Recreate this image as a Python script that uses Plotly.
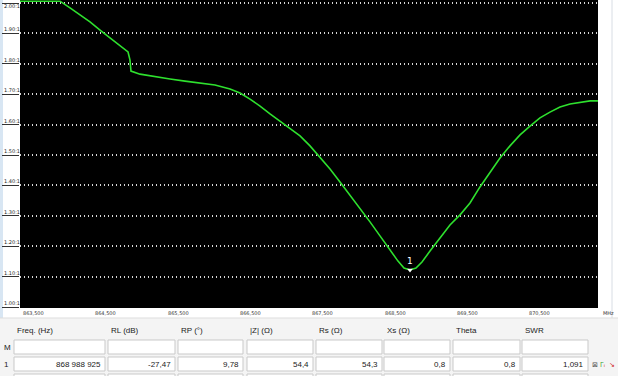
import plotly.graph_objects as go

# ---------------- data ----------------
freq_mhz = [863.500, 864.053, 864.192, 864.330, 864.468, 864.607, 864.745, 864.883, 864.994,
            865.021, 865.035, 865.160, 865.367, 865.575, 865.782, 865.990, 866.197, 866.405,
            866.543, 866.681, 866.820, 866.958, 867.096, 867.234, 867.373, 867.511, 867.649,
            867.788, 867.926, 868.064, 868.203, 868.341, 868.479, 868.618, 868.728, 868.811,
            868.894, 868.977, 869.060, 869.171, 869.309, 869.447, 869.586, 869.724, 869.862,
            870.001, 870.139, 870.277, 870.416, 870.554, 870.692, 870.830, 870.969, 871.107,
            871.245, 871.384, 871.494]
swr = [2.006, 2.006, 1.984, 1.961, 1.938, 1.911, 1.885, 1.862, 1.839,
       1.813, 1.776, 1.766, 1.757, 1.750, 1.743, 1.737, 1.730, 1.717,
       1.704, 1.684, 1.661, 1.635, 1.612, 1.589, 1.563, 1.530, 1.493,
       1.454, 1.411, 1.368, 1.326, 1.280, 1.234, 1.188, 1.151, 1.128,
       1.122, 1.128, 1.148, 1.184, 1.227, 1.270, 1.303, 1.342, 1.395,
       1.444, 1.490, 1.530, 1.566, 1.595, 1.622, 1.641, 1.658, 1.668,
       1.674, 1.678, 1.678]

marker_freq = 868.894
marker_swr = 1.122

y_ticks = [1.0, 1.1, 1.2, 1.3, 1.4, 1.5, 1.6, 1.7, 1.8, 1.9, 2.0]
y_ticktext = ["1.00:1", "1.10:1", "1.20:1", "1.30:1", "1.40:1", "1.50:1",
              "1.60:1", "1.70:1", "1.80:1", "1.90:1", "2.00:1"]
x_ticks = [863.5, 864.5, 865.5, 866.5, 867.5, 868.5, 869.5, 870.5]
x_ticktext = ["863,500", "864,500", "865,500", "866,500", "867,500", "868,500",
              "869,500", "870,500"]
x_unit = "MHz"

table_headers = ["Freq. (Hz)", "RL (dB)", "RP (°)", "|Z| (Ω)", "Rs (Ω)", "Xs (Ω)", "Theta", "SWR"]
table_row1 = ["868 988 925", "-27,47", "9,78", "54,4", "54,3", "0,8", "0,8", "1,091"]
row_labels = ["M", "1"]

# ---------------- layout helpers ----------------
W, H = 618, 376
PL, PR, PT, PB = 20, 598, 0, 308


def px(x):
    return (x - PL) / (PR - PL)


def py(y):
    return (PB - y) / (PB - PT)


fig = go.Figure()
fig.add_trace(go.Scatter(x=freq_mhz, y=swr, mode="lines",
                         line=dict(color="#2ee02e", width=1.6),
                         hoverinfo="skip", showlegend=False, cliponaxis=True))
fig.add_trace(go.Scatter(x=[marker_freq], y=[marker_swr], mode="markers",
                         marker=dict(symbol="triangle-down", size=5, color="white"),
                         showlegend=False, hoverinfo="skip"))

ann = []
shapes = []

# marker label
ann.append(dict(x=marker_freq, y=marker_swr, xref="x", yref="y", text="1",
                showarrow=False, yshift=9, font=dict(color="white", size=9, family="DejaVu Sans")))

# y labels (sitting on their tick underline)
for v, t in zip(y_ticks, y_ticktext):
    top = v == max(y_ticks)
    ann.append(dict(x=px(2), y=v, xref="paper", yref="y", text=t, showarrow=False,
                    xanchor="left", yanchor="top" if top else "bottom", yshift=2 if top else -1,
                    font=dict(size=5, color="#222222", family="DejaVu Sans")))

# x labels
for v, t in zip(x_ticks, x_ticktext):
    ann.append(dict(x=v, y=py(313), xref="x", yref="paper", text=t, showarrow=False,
                    xanchor="left", yanchor="middle", xshift=1,
                    font=dict(size=5, color="#333333", family="DejaVu Sans")))
ann.append(dict(x=px(601), y=py(313), xref="paper", yref="paper", text=x_unit, showarrow=False,
                xanchor="left", yanchor="middle", font=dict(size=5, color="#333333", family="DejaVu Sans")))

# background pieces
shapes.append(dict(type="rect", xref="paper", yref="paper", x0=px(0), x1=px(618), y0=py(376), y1=py(318),
                   fillcolor="#f4f4f4", line=dict(width=0), layer="below"))
shapes.append(dict(type="rect", xref="paper", yref="paper", x0=px(0), x1=px(3), y0=py(318), y1=py(0),
                   fillcolor="#d8e6f3", line=dict(width=0), layer="below"))
shapes.append(dict(type="line", xref="paper", yref="paper", x0=px(612), x1=px(612), y0=py(318), y1=py(0),
                   line=dict(color="#d8dde4", width=1)))
shapes.append(dict(type="line", xref="paper", yref="paper", x0=px(0), x1=px(618), y0=py(318), y1=py(318),
                   line=dict(color="#dddddd", width=1)))

# table
cols = [(14, 105), (108, 175), (178, 243), (247, 313), (316, 382), (384, 450), (453, 520), (522, 588)]
for (x0, x1), h, val in zip(cols, table_headers, table_row1):
    ann.append(dict(x=px(x0 + 1), y=py(330), xref="paper", yref="paper", text=h, showarrow=False,
                    xanchor="left", yanchor="middle",
                    font=dict(size=8, color="#222222", family="Liberation Sans")))
    for (r0, r1) in [(340, 354), (357, 371), (374, 380)]:
        shapes.append(dict(type="rect", xref="paper", yref="paper", x0=px(x0), x1=px(x1),
                           y0=py(r1), y1=py(r0), fillcolor="white",
                           line=dict(color="#c9c9c9", width=1)))
    ann.append(dict(x=px(x1 - 2), y=py(364), xref="paper", yref="paper", text=val, showarrow=False,
                    xanchor="right", yanchor="middle",
                    font=dict(size=8, color="#222222", family="Liberation Sans")))

for lbl, yy in zip(row_labels, [347, 364]):
    ann.append(dict(x=px(2), y=py(yy), xref="paper", yref="paper", text=lbl, showarrow=False,
                    xanchor="left", yanchor="middle",
                    font=dict(size=8, color="#222222", family="Liberation Sans")))

# small icons after SWR value
ann.append(dict(x=px(590), y=py(364), xref="paper", yref="paper", text="⊠", showarrow=False,
                xanchor="left", yanchor="middle", font=dict(size=7, color="#555555")))
ann.append(dict(x=px(598), y=py(364), xref="paper", yref="paper",
                text="<span style='color:#2a9d2a'>Γ</span><span style='color:#d02020'>ᵢ</span>",
                showarrow=False, xanchor="left", yanchor="middle", font=dict(size=7)))
ann.append(dict(x=px(607), y=py(364), xref="paper", yref="paper", text="↘", showarrow=False,
                xanchor="left", yanchor="middle", font=dict(size=7, color="#d02020")))

y_lo = 1.0 - 1.0 / 304
y_hi = 2.0 + 3.0 / 304
x_lo = 863.5
x_hi = 863.5 + (PR - PL) / 72.3

fig.update_layout(
    width=W, height=H,
    margin=dict(l=PL, r=W - PR, t=PT, b=H - PB),
    paper_bgcolor="white", plot_bgcolor="black",
    annotations=ann, shapes=shapes, showlegend=False,
    xaxis=dict(range=[x_lo, x_hi], showgrid=False, zeroline=False, showticklabels=False,
               ticks="", fixedrange=True),
    yaxis=dict(range=[y_lo, y_hi], tickvals=y_ticks, showticklabels=False,
               showgrid=True, gridcolor="#d8d8d8", griddash="1px,3px", gridwidth=1.5,
               zeroline=False, ticks="outside", ticklen=17, tickcolor="#333333", tickwidth=1,
               fixedrange=True),
)

fig.write_html("out.html")
